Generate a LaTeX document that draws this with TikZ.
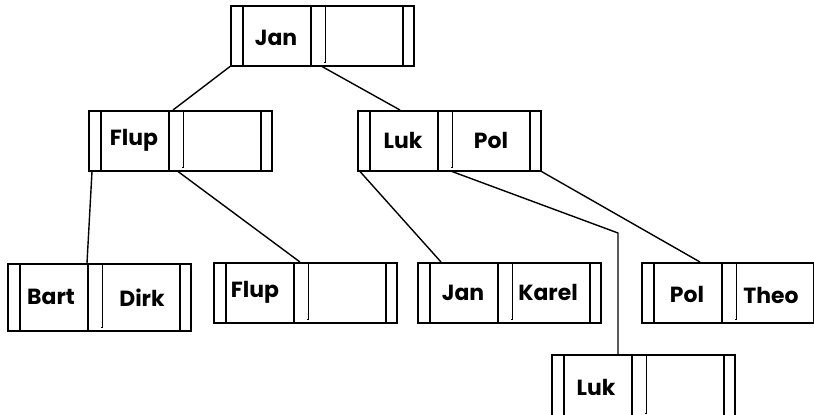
\documentclass[tikz,border=0pt]{standalone}
\usepackage{fontspec}
\setmainfont{Poppins}
\usepackage{tikz}
\usetikzlibrary{positioning}
\tikzset{
  rec/.style={draw, rectangle, anchor=north west, inner sep=0pt, line width=1.5bp,
    minimum width=183bp, minimum height=60bp,
    path picture={
      \draw[line width=1.5bp] ([xshift=12bp]path picture bounding box.north west) -- ([xshift=12bp]path picture bounding box.south west);
      \draw[line width=1.5bp] ([xshift=80bp]path picture bounding box.north west) -- ([xshift=80bp]path picture bounding box.south west);
      \draw[line width=1.3bp] ([xshift=95bp]path picture bounding box.north west) -- ([xshift=95bp,yshift=3bp]path picture bounding box.south west) -- ++(-2bp,0);
      \draw[line width=1.5bp] ([xshift=-11bp]path picture bounding box.north east) -- ([xshift=-11bp]path picture bounding box.south east);
    }},
  key/.style={inner sep=0pt, font=\fontsize{22}{22}\selectfont\bfseries},
  link/.style={line width=1.4bp}
}
\begin{document}
\begin{tikzpicture}[x=1bp, y=-1bp]
  \useasboundingbox[fill=white] (0,0) rectangle (814,414);
  % records
  \node[rec] (jan) at (230,5) {};
  \node[rec] (flup) at (88,110) {};
  \node[rec] (lukpol) at (357,110) {};
  \node[rec, minimum height=67bp] (bart) at (7,263) {};
  \node[rec] (flupb) at (213,262) {};
  \node[rec] (jankarel) at (417,262) {};
  \node[rec] (poltheo) at (641,262) {};
  \node[rec, minimum height=62bp] (luk) at (551,354) {};

  % keys
  \node[key] (janA) at ([xshift=46bp,yshift=-2bp]jan.west) {Jan};
  \node[key] (flupA) at ([xshift=46bp]flup.west) {Flup};
  \node[key] (lukA) at ([xshift=46bp]lukpol.west) {Luk};
  \node[key] (polA) at ([xshift=134bp]lukpol.west) {Pol};
  \node[key] (bartA) at ([xshift=44bp]bart.west) {Bart};
  \node[key] (dirkA) at ([xshift=135bp]bart.west) {Dirk};
  \node[key] (flupB) at ([xshift=42bp]flupb.west) {Flup};
  \node[key] (janB) at ([xshift=46bp]jankarel.west) {Jan};
  \node[key] (karelA) at ([xshift=131bp]jankarel.west) {Karel};
  \node[key] (polB) at ([xshift=46bp,yshift=-2bp]poltheo.west) {Pol};
  \node[key] (theoA) at ([xshift=130bp,yshift=-3bp]poltheo.west) {Theo};
  \node[key] (lukB) at ([xshift=45bp,yshift=-2bp]luk.west) {Luk};

  % pointers
  \coordinate (bend) at (618,233);
  \draw[link] (jan.south west) -- ([xshift=85bp]flup.north west);
  \draw[link] ([xshift=92bp]jan.south west) -- ([xshift=43bp]lukpol.north west);
  \draw[link] ([xshift=4bp]flup.south west) -- ([xshift=80bp]bart.north west);
  \draw[link] ([xshift=90bp]flup.south west) -- ([xshift=87bp]flupb.north west);
  \draw[link] ([xshift=3bp]lukpol.south west) -- ([xshift=24bp]jankarel.north west);
  \draw[link] ([xshift=95bp]lukpol.south west) -- (bend) -- (bend |- luk.north);
  \draw[link] (lukpol.south east) -- ([xshift=59bp]poltheo.north west);
\end{tikzpicture}
\end{document}
